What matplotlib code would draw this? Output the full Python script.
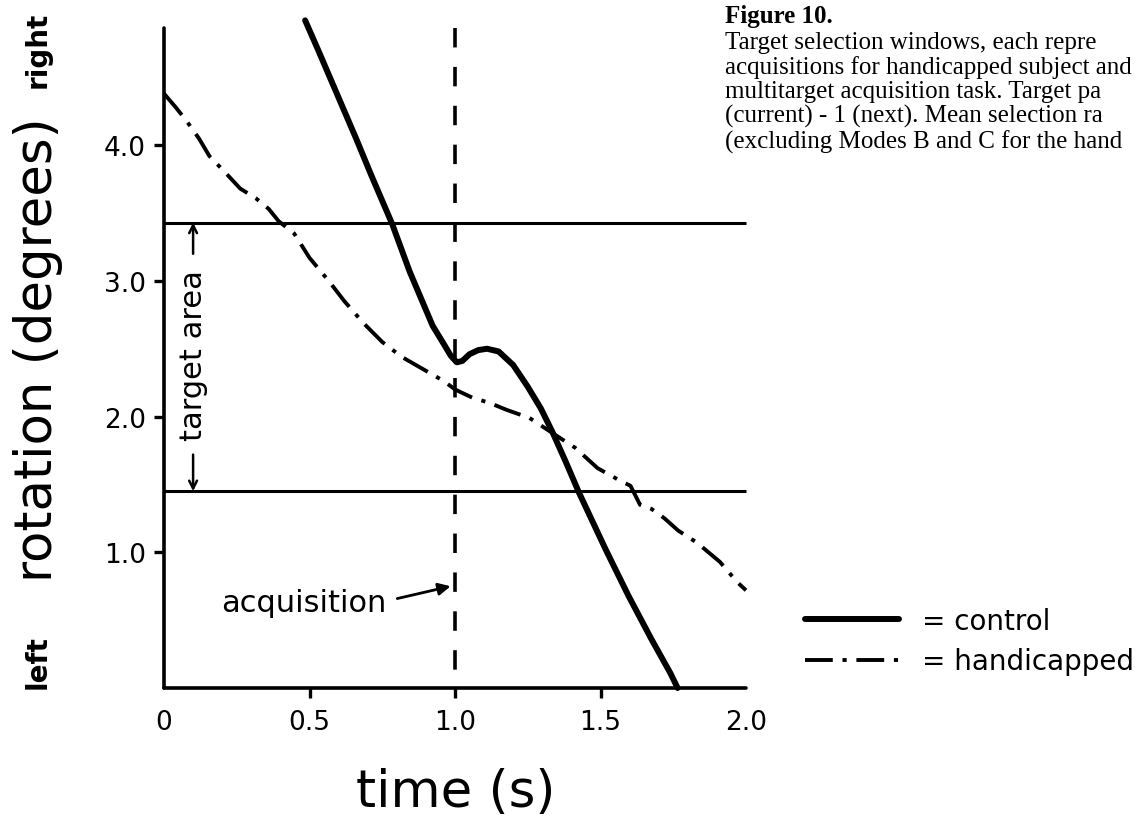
import matplotlib
matplotlib.use("Agg")
import matplotlib.pyplot as plt

# ---- data ----
control_t = [0.485, 0.53, 0.606, 0.66, 0.712, 0.784, 0.844, 0.923, 0.96, 0.985,
             1.006, 1.025, 1.05, 1.08, 1.11, 1.15, 1.20, 1.25, 1.295, 1.334,
             1.38, 1.426, 1.518, 1.596, 1.675, 1.74, 1.765]
control_rot = [4.92, 4.70, 4.32, 4.05, 3.78, 3.42, 3.07, 2.67, 2.54, 2.45,
               2.40, 2.41, 2.46, 2.49, 2.50, 2.48, 2.38, 2.22, 2.06, 1.89,
               1.67, 1.44, 1.02, 0.68, 0.36, 0.11, 0.0]

handi_t = [0.0, 0.04, 0.077, 0.12, 0.156, 0.21, 0.262, 0.315, 0.36, 0.394,
           0.447, 0.50, 0.566, 0.62, 0.685, 0.75, 0.817, 0.89, 0.963, 1.0,
           1.059, 1.12, 1.177, 1.256, 1.334, 1.413, 1.49, 1.557, 1.603, 1.636,
           1.675, 1.72, 1.767, 1.832, 1.91, 1.97, 2.0]
handi_rot = [4.38, 4.28, 4.18, 4.05, 3.92, 3.80, 3.68, 3.61, 3.53, 3.44,
             3.35, 3.17, 3.00, 2.85, 2.69, 2.55, 2.44, 2.35, 2.26, 2.20,
             2.14, 2.10, 2.05, 1.99, 1.88, 1.77, 1.62, 1.54, 1.49, 1.35,
             1.32, 1.25, 1.16, 1.07, 0.93, 0.78, 0.72]

target_bounds = [1.45, 3.43]
acq_time = 1.0
y_top = 4.86

x_ticks = [0, 0.5, 1.0, 1.5, 2.0]
x_ticklabels = ["0", "0.5", "1.0", "1.5", "2.0"]
y_ticks = [1.0, 2.0, 3.0, 4.0]
y_ticklabels = ["1.0", "2.0", "3.0", "4.0"]

caption = ("Target selection windows, each repre\n"
           "acquisitions for handicapped subject and\n"
           "multitarget acquisition task. Target pa\n"
           "(current) - 1 (next). Mean selection ra\n"
           "(excluding Modes B and C for the hand")

plt.rcParams["font.family"] = "DejaVu Sans"
plt.rcParams["lines.scale_dashes"] = False

W, H = 1147, 829
fig = plt.figure(figsize=(W / 100, H / 100), dpi=100)
ax = fig.add_axes([164 / W, 140 / H, 582 / W, 678.5 / H])
ax.set_xlim(0, 2.0)
ax.set_ylim(0, 5.0)

for side in ("top", "right"):
    ax.spines[side].set_visible(False)
for side in ("left", "bottom"):
    ax.spines[side].set_linewidth(2.6)
    ax.spines[side].set_capstyle("round")
ax.spines["left"].set_bounds(0, y_top)
ax.spines["bottom"].set_bounds(0, 2.0)

ax.set_xticks(x_ticks)
ax.set_xticklabels(x_ticklabels)
ax.set_yticks(y_ticks)
ax.set_yticklabels(y_ticklabels)
ax.tick_params(axis="both", direction="out", length=7, width=2.4,
               labelsize=19, colors="black")
ax.tick_params(axis="x", pad=8)
ax.tick_params(axis="y", pad=6)
xt = ax.xaxis.get_major_ticks()
xt[0].tick1line.set_visible(False)
xt[-1].tick1line.set_visible(False)

# target area bounds and acquisition moment
ax.hlines(target_bounds, 0, 2.0, colors="black", lw=2.2, clip_on=False)
ax.plot([acq_time, acq_time], [y_top, 0], color="black", lw=2.6,
        dashes=(14, 14), clip_on=False)

ax.plot(control_t, control_rot, color="black", lw=4.3,
        solid_capstyle="round", solid_joinstyle="round",
        clip_on=False, label="= control")
ax.plot(handi_t, handi_rot, color="black", lw=2.8, dashes=(20, 7, 3, 7),
        clip_on=False, label="= handicapped")

# target area annotation
ax.text(0.10, 2.46, "target area", rotation=90, ha="center", va="center",
        fontsize=22)
ax.annotate("", xy=(0.10, target_bounds[1]), xytext=(0.10, 3.20),
            arrowprops=dict(arrowstyle="->", lw=1.8, color="black",
                            shrinkA=0, shrinkB=0, mutation_scale=14))
ax.annotate("", xy=(0.10, target_bounds[0]), xytext=(0.10, 1.72),
            arrowprops=dict(arrowstyle="->", lw=1.8, color="black",
                            shrinkA=0, shrinkB=0, mutation_scale=14))

ax.annotate("acquisition", xy=(0.985, 0.75), xytext=(0.48, 0.63),
            ha="center", va="center", fontsize=22,
            arrowprops=dict(arrowstyle="-|>", lw=2.0, color="black",
                            relpos=(1.0, 0.55), shrinkA=6, shrinkB=0,
                            mutation_scale=18))

# axis labels
fig.text(456 / W, 1 - 793 / H, "time (s)", ha="center", va="center",
         fontsize=37)
fig.text(38 / W, 1 - 350 / H, "rotation (degrees)", rotation=90,
         ha="center", va="center", fontsize=37)
fig.text(38 / W, 1 - 50 / H, "right", rotation=90, ha="center", va="center",
         fontsize=20, fontweight="bold")
fig.text(38 / W, 1 - 662 / H, "left", rotation=90, ha="center", va="center",
         fontsize=20, fontweight="bold")

fig.legend(loc="upper left", bbox_to_anchor=(805 / W, 1 - 608 / H),
           frameon=False, fontsize=20, handlelength=3.4, handletextpad=0.8,
           labelspacing=0.45, borderpad=0, borderaxespad=0)

# caption block (cut off at the right edge, as in the scan)
fig.text(725 / W, 1 - 5 / H, "Figure 10.", ha="left", va="top",
         fontsize=18, fontweight="bold", family="Liberation Serif")
fig.text(725 / W, 1 - 32 / H, caption, ha="left", va="top", fontsize=18,
         family="Liberation Serif", linespacing=1.12)

fig.savefig("out.png", dpi=100)
